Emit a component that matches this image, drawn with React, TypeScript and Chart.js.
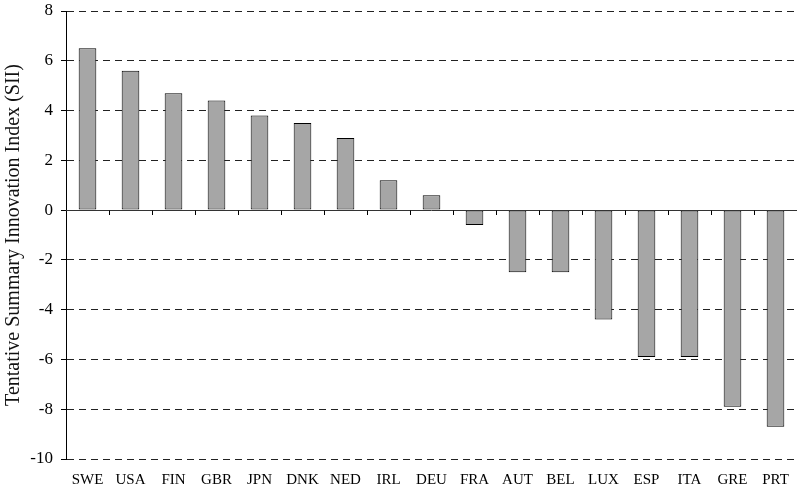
import React, { useEffect, useRef } from "react";
import { Chart, registerables } from "chart.js";

Chart.register(...registerables);

const categories = ["SWE", "USA", "FIN", "GBR", "JPN", "DNK", "NED", "IRL", "DEU", "FRA", "AUT", "BEL", "LUX", "ESP", "ITA", "GRE", "PRT"];
const siiValues = [6.5, 5.6, 4.7, 4.4, 3.8, 3.5, 2.9, 1.2, 0.6, -0.6, -2.5, -2.5, -4.4, -5.9, -5.9, -7.9, -8.7];
const yMin = -10;
const yMax = 8;
const yStep = 2;
const yTitle = "Tentative Summary Innovation Index (SII)";

const FONT = "'Liberation Serif', 'Times New Roman', serif";

const zeroTicksPlugin = {
  id: "zeroTicks",
  afterDatasetsDraw(chart: any) {
    const x = chart.scales.x;
    const y = chart.scales.y;
    const ctx = chart.ctx;
    const y0 = y.getPixelForValue(0);
    ctx.save();
    ctx.strokeStyle = "#333";
    ctx.lineWidth = 1;
    ctx.beginPath();
    ctx.moveTo(chart.chartArea.left, Math.round(y0) + 0.5);
    ctx.lineTo(chart.chartArea.right, Math.round(y0) + 0.5);
    ctx.stroke();
    ctx.strokeStyle = "#000";
    for (let i = 1; i < categories.length; i++) {
      const px = (x.getPixelForValue(i - 1) + x.getPixelForValue(i)) / 2;
      ctx.beginPath();
      ctx.moveTo(Math.round(px) + 0.5, Math.round(y0) + 0.5);
      ctx.lineTo(Math.round(px) + 0.5, Math.round(y0) + 5);
      ctx.stroke();
    }
    ctx.restore();
  },
};

export default function App() {
  const ref = useRef<HTMLCanvasElement>(null);
  useEffect(() => {
    if (!ref.current) return;
    const chart = new Chart(ref.current, {
      type: "bar",
      data: {
        labels: categories,
        datasets: [
          {
            data: siiValues,
            backgroundColor: "#a6a6a6",
            borderColor: "#000",
            borderWidth: 1,
            borderSkipped: false,
            barPercentage: 0.41,
            categoryPercentage: 1,
          },
        ],
      },
      options: {
        animation: false,
        responsive: false,
        maintainAspectRatio: false,
        devicePixelRatio: 1,
        layout: { padding: { top: 11, right: 5, left: 0, bottom: 0 } },
        plugins: { legend: { display: false }, tooltip: { enabled: false } },
        scales: {
          x: {
            grid: { display: false },
            border: { display: false },
            ticks: { color: "#000", font: { family: FONT, size: 15 }, padding: 4, maxRotation: 0, autoSkip: false },
            afterFit: (s: any) => {
              s.height = 40;
            },
          },
          y: {
            min: yMin,
            max: yMax,
            ticks: { stepSize: yStep, color: "#000", font: { family: FONT, size: 17 }, padding: 8 },
            grid: {
              color: (c: any) => (c.tick && c.tick.value === 0 ? "rgba(0,0,0,0)" : "#222"),
              lineWidth: 1,
              drawTicks: true,
              tickLength: 5,
              tickColor: "#000",
              tickBorderDash: [],
            },
            border: { display: true, color: "#000", width: 1, dash: [7, 5] },
            title: { display: true, text: yTitle, color: "#111", font: { family: FONT, size: 20 }, padding: { top: 2, bottom: 2 } },
            afterFit: (s: any) => {
              s.width = 66;
              s.paddingTop = 0;
              s.paddingBottom = 0;
            },
          },
        },
      },
      plugins: [zeroTicksPlugin],
    });
    return () => chart.destroy();
  }, []);
  return (
    <div style={{ position: "fixed", left: 0, top: 0, width: 802, height: 499, background: "#fff" }}>
      <canvas ref={ref} width={802} height={499} />
    </div>
  );
}
